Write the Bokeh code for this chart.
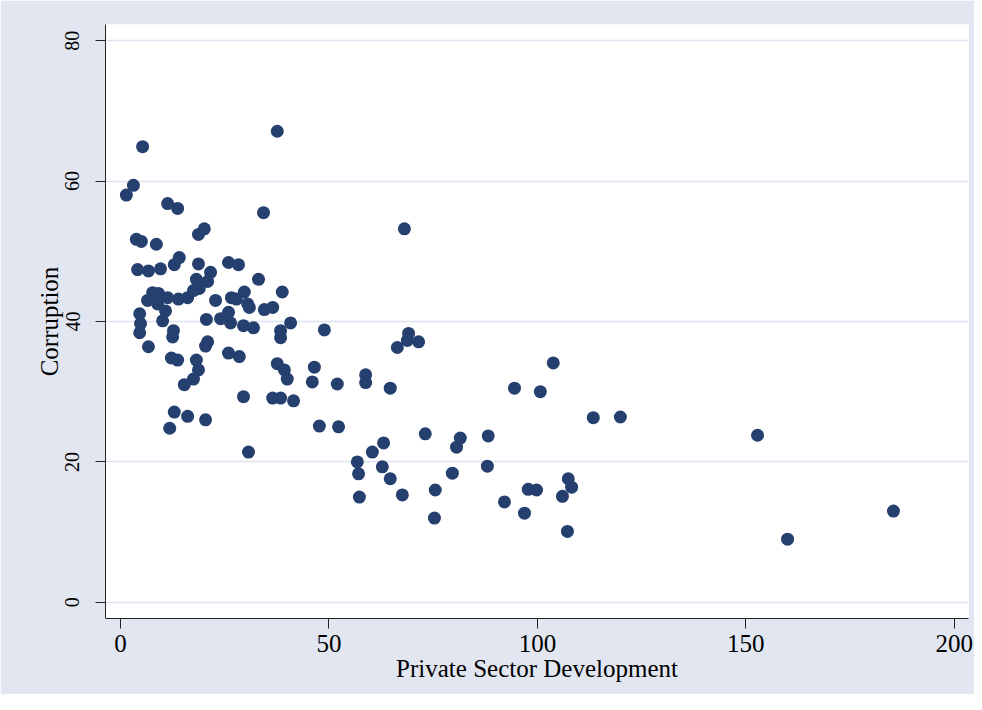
from bokeh.plotting import figure
from bokeh.models import Range1d, FixedTicker, ColumnDataSource
from bokeh.embed import file_html
from bokeh.resources import INLINE

# Private Sector Development (x) and Corruption (y)
private_sector = [
    1.4, 3.1, 5.3, 37.6, 11.3, 13.7, 34.3, 68.1, 18.7, 20.1,
    3.8, 5.0, 8.6, 14.1, 12.9, 4.1, 6.7, 9.6, 18.7, 25.9,
    28.3, 21.6, 33.1, 38.8, 18.2, 20.9, 18.9, 17.5, 29.7, 7.7,
    9.1, 6.5, 8.9, 11.3, 13.9, 16.1, 22.8, 26.6, 27.8, 30.5,
    30.9, 34.5, 36.5, 10.8, 10.1, 4.6, 4.8, 4.6, 6.7, 12.7,
    12.5, 20.6, 24.0, 25.9, 26.4, 29.5, 31.9, 40.8, 38.4, 38.4,
    48.9, 20.9, 20.4, 25.9, 28.5, 12.2, 13.7, 18.2, 18.7, 17.5,
    15.3, 37.6, 39.3, 40.0, 29.5, 36.5, 38.4, 41.5, 12.9, 16.1,
    20.4, 11.8, 30.7, 46.5, 46.0, 52.0, 47.7, 52.3, 69.1, 68.8,
    71.5, 66.4, 58.8, 58.8, 64.7, 73.1, 81.5, 80.6, 63.1, 60.4,
    56.8, 62.8, 57.1, 79.6, 64.7, 75.5, 67.6, 57.3, 75.3, 88.2,
    88.0, 94.5, 103.8, 100.7, 92.1, 97.8, 99.8, 96.9, 106.0, 107.4,
    108.2, 107.2, 113.4, 119.9, 152.8, 160.0, 185.4,
]
corruption = [
    58.0, 59.4, 64.9, 67.1, 56.8, 56.1, 55.5, 53.2, 52.4, 53.2,
    51.7, 51.4, 51.0, 49.1, 48.1, 47.4, 47.2, 47.5, 48.2, 48.4,
    48.1, 47.0, 46.0, 44.2, 46.0, 45.7, 44.7, 44.4, 44.2, 44.1,
    44.0, 43.0, 42.5, 43.4, 43.2, 43.4, 43.0, 43.4, 43.2, 42.5,
    42.0, 41.7, 42.0, 41.5, 40.1, 41.1, 39.7, 38.4, 36.4, 38.7,
    37.8, 40.3, 40.4, 41.3, 39.8, 39.4, 39.1, 39.8, 38.7, 37.7,
    38.8, 37.1, 36.5, 35.5, 35.0, 34.8, 34.5, 34.5, 33.1, 31.8,
    31.0, 34.0, 33.1, 31.8, 29.3, 29.1, 29.1, 28.7, 27.1, 26.5,
    26.0, 24.8, 21.4, 33.5, 31.4, 31.1, 25.1, 25.0, 38.3, 37.3,
    37.1, 36.3, 32.4, 31.3, 30.5, 24.0, 23.4, 22.1, 22.7, 21.4,
    20.0, 19.3, 18.3, 18.4, 17.6, 16.0, 15.3, 15.0, 12.0, 23.7,
    19.4, 30.5, 34.1, 30.0, 14.3, 16.1, 16.0, 12.7, 15.1, 17.6,
    16.4, 10.1, 26.3, 26.4, 23.8, 9.0, 13.0,
]
x_ticks = [0, 50, 100, 150, 200]
y_ticks = [0, 20, 40, 60, 80]
x_title = "Private Sector Development"
y_title = "Corruption"

FONT = "Liberation Serif"
NAVY = "#253F6E"

source = ColumnDataSource(data=dict(x=private_sector, y=corruption))

p = figure(
    frame_width=863, frame_height=594,
    x_range=Range1d(-3.6, 203.4), y_range=Range1d(-2.3, 82.3),
    output_backend="svg", toolbar_location=None,
    min_border_left=105, min_border_top=24, min_border_right=6, min_border_bottom=76,
)
p.background_fill_color = "white"
p.border_fill_color = "#E1E6F0"
p.outline_line_color = None

p.xgrid.visible = False
p.ygrid.grid_line_color = "#DCE2EE"
p.ygrid.grid_line_width = 1.5

p.scatter("x", "y", source=source, size=13, fill_color=NAVY, line_color=None)

for ax in (p.xaxis[0], p.yaxis[0]):
    ax.axis_line_color = "#222222"
    ax.axis_line_width = 1
    ax.major_tick_line_color = "#222222"
    ax.major_tick_in = 0
    ax.major_tick_out = 10
    ax.minor_tick_line_color = None
    ax.major_label_text_font = FONT
    ax.major_label_text_color = "black"
    ax.axis_label_text_font = FONT
    ax.axis_label_text_font_style = "normal"
    ax.axis_label_text_color = "black"

p.xaxis.ticker = FixedTicker(ticks=x_ticks)
p.yaxis.ticker = FixedTicker(ticks=y_ticks)
p.xaxis.axis_label = x_title
p.yaxis.axis_label = y_title
p.xaxis.major_label_text_font_size = "25px"
p.yaxis.major_label_text_font_size = "20px"
p.xaxis.axis_label_text_font_size = "25px"
p.yaxis.axis_label_text_font_size = "25px"
p.yaxis.major_label_orientation = "vertical"
p.xaxis.major_label_standoff = 6
p.yaxis.major_label_standoff = 16
p.xaxis.axis_label_standoff = 0
p.yaxis.axis_label_standoff = 0

open("out.html", "w").write(file_html(p, INLINE))
